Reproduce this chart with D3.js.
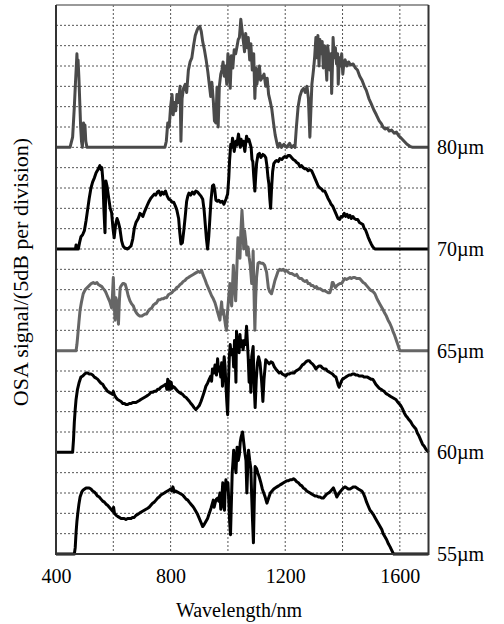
<!DOCTYPE html>
<html><head><meta charset="utf-8">
<script src="https://cdn.jsdelivr.net/npm/d3@7"></script>
<style>
html,body{margin:0;padding:0;background:#fff;}
text{font-family:"Liberation Serif","Times New Roman",serif;fill:#000;}
</style></head>
<body><svg id="c" width="504" height="624"></svg>
<script>
// ---- data (wavelength nm, signal in divisions above each trace's baseline) ----
const traceLabels = ["80µm","70µm","65µm","60µm","55µm"];
const traceOffsets = [20,15,10,5,0];   // baseline position in divisions
const traceColors = ["#4a4a4a","#000000","#666666","#000000","#000000"];
const xTicks = [400,800,1200,1600];
const gridX = [600,800,1000,1200,1400,1600];

const trace80 = [[400,0],[449,0],[458,0.5],[464,2.0],[468,3.2],[471,4.0],[473,4.6],[475,3.8],[477,4.3],[480,3.4],[483,2.2],[486,1.0],[489,0.3],[492,0],[496,1.2],[499,0.9],[501,1.1],[504,0.3],[508,0],
[780,0],[785,0.3],[790,1.2],[795,1.0],[800,2.0],[805,2.6],[809,1.6],[813,2.2],[818,1.8],[822,2.6],[827,2.2],[833,3.0],[836,0.3],[840,2.4],[845,2.9],[851,3.1],[856,2.7],[862,3.8],[868,4.2],[874,4.4],[880,5.0],[886,5.5],[892,5.75],[897,5.9],[902,5.95],[907,5.7],[912,5.2],[918,4.8],[924,4.3],[930,3.7],[935,3.1],[940,2.5],[944,3.2],[949,2.3],[953,1.3],[958,1.2],[962,2.95],[966,1.0],[970,3.0],[975,3.6],[979,3.8],[983,4.2],[987,3.5],[991,4.0],[996,3.1],[1000,4.6],[1004,4.2],[1008,2.9],[1012,4.5],[1017,3.9],[1022,4.8],[1027,4.6],[1031,4.9],[1036,5.3],[1040,5.4],[1045,6.3],[1049,5.8],[1054,5.2],[1058,4.7],[1062,5.6],[1067,4.9],[1071,5.4],[1076,4.3],[1080,5.1],[1085,3.8],[1090,4.6],[1094,2.4],[1098,3.9],[1101,3.1],[1106,3.6],[1110,4.0],[1114,3.3],[1120,3.45],[1126,3.6],[1132,3.0],[1137,3.4],[1142,2.6],[1147,2.3],[1153,1.9],[1159,1.2],[1165,0.6],[1171,0.2],[1175,0],[1181,0.2],[1187,0],[1195,0.15],[1205,0],[1215,0.2],[1222,0],[1230,0.1],[1234,0],[1239,1.0],[1245,2.0],[1251,2.5],[1258,2.8],[1264,2.9],[1270,2.7],[1276,3.0],[1281,2.4],[1286,0.5],[1290,2.0],[1293,3.1],[1297,3.6],[1300,4.0],[1303,4.5],[1307,5.4],[1311,4.4],[1314,5.5],[1318,4.0],[1321,5.3],[1325,4.6],[1329,5.2],[1333,3.9],[1337,5.0],[1341,4.3],[1345,3.3],[1348,5.0],[1352,4.5],[1356,3.8],[1360,4.6],[1362,2.65],[1365,4.1],[1367,5.4],[1371,4.4],[1375,4.9],[1379,4.1],[1383,4.6],[1385,3.1],[1389,4.4],[1393,4.0],[1397,4.6],[1401,3.6],[1405,4.2],[1409,4.3],[1415,4.0],[1421,4.2],[1428,4.05],[1437,4.1],[1445,3.9],[1452,3.8],[1460,3.5],[1468,3.3],[1476,3.0],[1483,2.8],[1492,2.4],[1500,2.15],[1509,1.85],[1518,1.6],[1528,1.3],[1536,1.15],[1541,1.0],[1548,0.9],[1556,0.95],[1563,0.8],[1571,0.85],[1580,0.7],[1588,0.75],[1597,0.55],[1605,0.45],[1615,0.3],[1625,0.15],[1635,0.05],[1645,0],[1700,0]];

const trace70 = [[400,0],[468,0],[470,0.2],[473,0],[478,0],[482,0.3],[487,0.6],[493,0.7],[499,0.9],[505,1.4],[510,1.9],[516,2.5],[522,3.0],[528,3.3],[534,3.5],[540,3.75],[546,3.9],[553,4.1],[557,3.9],[560,4.0],[564,3.3],[567,2.0],[571,0.8],[574,3.35],[578,3.1],[582,2.7],[586,2.3],[589,2.0],[594,1.8],[599,1.0],[603,0.55],[608,1.2],[613,1.5],[618,1.3],[623,1.0],[629,0.4],[634,0.15],[640,0.05],[650,0],[662,0.15],[668,0.5],[673,1.0],[679,1.3],[687,1.5],[693,1.75],[698,1.7],[703,1.6],[708,1.8],[714,2.0],[720,2.2],[725,2.35],[731,2.5],[737,2.6],[743,2.7],[748,2.65],[754,2.8],[759,2.85],[765,2.65],[770,2.8],[776,2.7],[782,2.85],[788,2.6],[794,2.45],[800,2.4],[805,2.3],[811,2.3],[817,2.1],[822,1.9],[828,1.5],[832,0.8],[836,0.25],[841,0.3],[846,0.9],[851,1.6],[856,2.35],[860,2.6],[864,2.75],[870,2.65],[876,2.8],[882,2.7],[888,2.85],[894,2.8],[900,2.7],[906,2.6],[912,2.45],[917,1.9],[921,1.2],[925,0.5],[929,0],[933,0.6],[937,1.5],[941,2.4],[946,3.1],[950,3.15],[954,2.9],[958,2.4],[963,2.35],[968,2.4],[974,2.3],[980,2.35],[986,2.2],[993,2.45],[999,2.7],[1003,3.5],[1006,4.4],[1010,5.15],[1013,5.0],[1016,5.45],[1019,5.2],[1022,4.8],[1025,5.1],[1028,5.3],[1031,5.1],[1034,5.4],[1037,5.65],[1040,5.3],[1043,5.0],[1046,5.4],[1050,5.1],[1054,5.3],[1059,4.8],[1062,5.2],[1065,5.55],[1069,5.3],[1073,5.4],[1077,5.2],[1081,5.0],[1084,4.4],[1087,4.3],[1090,3.6],[1094,2.85],[1097,3.6],[1100,4.2],[1105,4.65],[1110,4.7],[1115,4.5],[1122,4.65],[1127,4.6],[1132,4.5],[1136,4.1],[1140,3.5],[1143,3.2],[1146,2.5],[1149,2.0],[1152,2.9],[1156,3.8],[1160,4.2],[1165,4.3],[1170,4.35],[1176,4.3],[1181,4.45],[1188,4.4],[1194,4.5],[1199,4.55],[1205,4.5],[1210,4.6],[1216,4.6],[1222,4.5],[1228,4.4],[1234,4.35],[1240,4.25],[1246,4.2],[1251,4.05],[1257,4.1],[1263,4.0],[1268,3.95],[1274,3.95],[1280,3.85],[1286,3.9],[1292,3.85],[1297,3.7],[1303,3.5],[1309,3.3],[1315,3.1],[1321,3.0],[1327,2.95],[1332,2.85],[1338,2.85],[1343,2.7],[1349,2.5],[1355,2.35],[1360,2.2],[1366,2.1],[1372,1.9],[1378,1.7],[1384,1.5],[1390,1.45],[1395,1.6],[1401,1.6],[1406,1.75],[1411,1.6],[1416,1.7],[1421,1.55],[1426,1.65],[1431,1.5],[1436,1.6],[1441,1.5],[1447,1.45],[1453,1.45],[1459,1.3],[1465,1.25],[1471,1.2],[1476,1.0],[1480,0.95],[1484,0.8],[1489,0.6],[1495,0.4],[1500,0.25],[1506,0.1],[1513,0],[1700,0]];

const trace65 = [[400,0],[470,0],[473,0.3],[476,0.75],[480,1.4],[484,2.0],[489,2.4],[495,2.8],[502,3.0],[509,3.1],[516,3.2],[523,3.3],[530,3.35],[537,3.3],[543,3.35],[548,3.25],[554,3.2],[560,3.15],[565,3.05],[571,2.95],[576,2.8],[582,2.6],[588,2.4],[592,2.2],[594,2.1],[597,2.7],[600,3.6],[603,2.4],[606,1.5],[609,2.6],[612,2.45],[615,1.9],[618,1.3],[621,2.4],[624,3.1],[628,3.2],[633,3.3],[637,3.3],[642,3.25],[647,3.0],[652,2.7],[658,2.45],[664,2.3],[670,2.2],[675,2.0],[681,1.85],[687,1.75],[693,1.7],[699,1.7],[705,1.75],[711,1.8],[716,1.8],[722,1.95],[728,2.05],[734,2.1],[740,2.25],[745,2.3],[751,2.35],[757,2.5],[763,2.5],[769,2.55],[775,2.55],[780,2.6],[786,2.6],[792,2.75],[798,2.8],[804,2.85],[810,2.95],[816,3.0],[821,3.1],[827,3.15],[833,3.25],[838,3.3],[844,3.4],[850,3.45],[856,3.55],[862,3.6],[867,3.65],[873,3.7],[879,3.75],[885,3.8],[891,3.85],[897,3.9],[902,3.85],[908,3.95],[914,3.7],[920,3.5],[925,3.3],[931,3.1],[937,2.9],[943,2.7],[949,2.55],[955,2.35],[960,2.1],[964,1.9],[968,1.7],[972,1.5],[975,2.0],[978,2.4],[981,1.8],[984,2.0],[988,1.6],[992,1.2],[995,1.0],[998,1.8],[1002,2.5],[1005,3.0],[1007,3.3],[1010,2.6],[1013,2.2],[1016,3.2],[1019,4.2],[1021,3.6],[1024,3.0],[1027,2.45],[1030,3.6],[1032,4.4],[1035,5.55],[1038,5.2],[1042,4.55],[1045,5.8],[1049,6.9],[1052,6.2],[1055,5.0],[1058,5.9],[1062,5.4],[1066,4.7],[1070,5.1],[1074,4.6],[1078,4.2],[1083,3.3],[1086,3.8],[1088,4.9],[1090,3.6],[1092,2.2],[1094,1.0],[1097,2.6],[1100,3.6],[1105,4.3],[1110,4.35],[1116,4.3],[1122,4.3],[1128,4.2],[1135,3.85],[1141,3.1],[1146,2.9],[1152,2.8],[1158,3.1],[1164,3.45],[1170,3.7],[1175,3.9],[1181,4.0],[1187,3.95],[1193,4.0],[1199,3.9],[1205,3.95],[1211,3.85],[1216,3.8],[1222,3.8],[1228,3.75],[1234,3.7],[1240,3.75],[1246,3.6],[1251,3.55],[1257,3.55],[1263,3.45],[1269,3.4],[1275,3.45],[1280,3.3],[1286,3.3],[1291,3.2],[1297,3.2],[1303,3.1],[1309,3.15],[1315,3.05],[1321,3.05],[1327,3.0],[1332,2.95],[1338,2.95],[1344,2.9],[1350,2.85],[1356,2.85],[1361,3.1],[1364,3.35],[1367,3.35],[1371,3.2],[1375,3.1],[1380,3.2],[1385,3.25],[1391,3.3],[1397,3.3],[1403,3.45],[1408,3.55],[1414,3.5],[1420,3.55],[1426,3.6],[1431,3.55],[1437,3.6],[1443,3.6],[1449,3.55],[1455,3.55],[1460,3.55],[1466,3.45],[1472,3.35],[1478,3.3],[1484,3.2],[1490,3.1],[1496,3.0],[1501,2.95],[1507,2.9],[1513,2.8],[1519,2.6],[1524,2.45],[1530,2.3],[1536,2.15],[1542,2.0],[1547,1.85],[1553,1.7],[1559,1.5],[1565,1.35],[1571,1.15],[1576,0.95],[1582,0.75],[1588,0.5],[1594,0.25],[1600,0],[1700,0]];

const trace60 = [[400,0],[458,0],[461,0.6],[464,1.5],[467,2.1],[470,2.6],[475,3.1],[481,3.45],[487,3.7],[493,3.75],[500,3.85],[505,3.9],[510,3.9],[516,3.85],[522,3.85],[528,3.8],[534,3.7],[540,3.65],[545,3.6],[551,3.5],[557,3.4],[563,3.35],[569,3.2],[575,3.1],[580,3.0],[586,2.95],[592,2.9],[597,2.85],[600,3.0],[603,2.85],[609,2.7],[615,2.6],[621,2.55],[627,2.5],[633,2.4],[639,2.4],[644,2.35],[650,2.35],[656,2.4],[662,2.4],[668,2.45],[673,2.45],[679,2.45],[685,2.5],[691,2.55],[696,2.6],[702,2.65],[708,2.7],[714,2.75],[720,2.8],[725,2.85],[731,2.95],[737,2.95],[743,3.0],[749,3.0],[755,3.1],[760,3.1],[766,3.2],[772,3.25],[778,3.3],[783,3.35],[787,3.1],[790,3.6],[793,3.1],[796,3.5],[799,3.1],[802,3.45],[805,3.15],[807,3.25],[813,3.2],[819,3.1],[825,3.0],[830,2.95],[836,2.9],[842,2.85],[848,2.75],[854,2.7],[860,2.6],[866,2.5],[871,2.4],[877,2.3],[882,2.2],[888,2.1],[894,2.2],[900,2.3],[906,2.5],[912,2.75],[918,3.0],[923,3.25],[929,3.4],[935,3.6],[940,3.75],[943,3.5],[946,4.1],[951,3.9],[955,4.3],[960,3.8],[964,4.6],[967,4.0],[971,4.2],[975,3.7],[978,4.4],[981,3.25],[984,4.0],[987,4.7],[990,4.2],[993,3.3],[996,2.5],[999,1.85],[1002,3.5],[1005,4.7],[1008,5.3],[1011,4.8],[1014,5.0],[1017,5.05],[1020,4.2],[1023,5.5],[1026,4.5],[1028,3.45],[1030,5.95],[1033,5.3],[1036,5.6],[1039,4.9],[1042,5.8],[1045,5.2],[1048,5.5],[1053,5.05],[1057,5.5],[1061,5.3],[1065,6.2],[1068,5.4],[1071,4.6],[1074,3.45],[1077,4.5],[1080,2.95],[1083,4.7],[1086,5.0],[1088,5.2],[1091,3.5],[1095,2.2],[1099,3.6],[1103,4.4],[1107,4.7],[1112,4.4],[1117,3.6],[1120,3.0],[1122,2.5],[1126,3.6],[1132,4.55],[1138,4.45],[1144,4.35],[1150,4.45],[1156,4.4],[1162,4.2],[1167,4.1],[1173,4.0],[1179,3.9],[1185,3.95],[1190,3.85],[1196,3.8],[1202,3.75],[1208,3.85],[1214,3.85],[1220,3.9],[1226,3.9],[1231,3.9],[1237,4.0],[1243,4.05],[1249,4.1],[1255,4.2],[1260,4.3],[1266,4.35],[1272,4.45],[1278,4.5],[1284,4.5],[1290,4.4],[1295,4.35],[1301,4.25],[1307,4.1],[1313,4.2],[1318,4.25],[1324,4.25],[1330,4.15],[1336,4.1],[1342,4.1],[1347,4.0],[1353,3.95],[1359,3.9],[1365,3.85],[1371,3.75],[1377,3.7],[1381,3.5],[1385,3.3],[1388,3.2],[1392,3.35],[1396,3.5],[1400,3.6],[1406,3.65],[1411,3.7],[1417,3.75],[1423,3.8],[1429,3.8],[1435,3.85],[1441,3.85],[1446,3.8],[1452,3.8],[1458,3.75],[1464,3.75],[1470,3.75],[1475,3.7],[1481,3.7],[1487,3.7],[1493,3.65],[1499,3.6],[1505,3.6],[1510,3.5],[1516,3.35],[1522,3.25],[1528,3.15],[1534,3.1],[1539,3.05],[1545,3.0],[1551,2.9],[1557,2.85],[1562,2.8],[1568,2.75],[1574,2.7],[1580,2.65],[1586,2.6],[1591,2.5],[1597,2.4],[1603,2.3],[1609,2.15],[1615,1.95],[1621,1.8],[1627,1.7],[1632,1.6],[1638,1.5],[1644,1.35],[1650,1.25],[1656,1.15],[1661,0.95],[1667,0.8],[1673,0.6],[1679,0.4],[1685,0.3],[1691,0.15],[1697,0.05],[1700,0]];

const trace55 = [[400,0],[464,0],[467,0.3],[470,1.05],[473,1.6],[476,2.0],[480,2.45],[484,2.8],[490,3.05],[495,3.15],[500,3.2],[505,3.25],[511,3.25],[516,3.25],[522,3.2],[528,3.1],[534,3.05],[540,2.95],[545,2.85],[551,2.8],[557,2.7],[563,2.6],[569,2.55],[575,2.45],[580,2.4],[586,2.3],[592,2.2],[598,2.1],[601,2.3],[604,2.0],[610,1.9],[615,1.85],[621,1.8],[627,1.75],[633,1.75],[638,1.75],[644,1.7],[650,1.75],[656,1.75],[662,1.75],[667,1.8],[673,1.8],[679,1.9],[685,1.95],[691,2.0],[696,2.05],[702,2.1],[708,2.15],[714,2.2],[720,2.25],[725,2.3],[731,2.4],[737,2.5],[743,2.55],[749,2.65],[755,2.75],[760,2.8],[766,2.9],[772,2.95],[778,3.0],[783,3.05],[789,3.1],[795,3.15],[800,3.2],[804,3.1],[808,3.3],[813,3.05],[818,3.1],[824,3.05],[830,3.0],[836,2.95],[842,2.9],[848,2.8],[854,2.7],[860,2.65],[865,2.55],[871,2.45],[877,2.35],[882,2.25],[888,2.1],[894,1.95],[900,1.75],[906,1.55],[912,1.35],[917,1.45],[923,1.6],[929,1.75],[935,2.0],[941,2.25],[945,2.45],[949,2.65],[952,2.3],[956,2.55],[960,2.7],[964,2.75],[968,2.6],[972,3.0],[975,2.2],[978,2.6],[982,3.5],[985,2.4],[988,2.15],[990,3.0],[993,3.65],[996,3.2],[1000,3.5],[1003,2.6],[1006,1.6],[1009,0.95],[1012,2.5],[1015,4.0],[1018,4.6],[1020,5.1],[1024,4.5],[1028,4.0],[1032,5.25],[1036,4.6],[1040,4.9],[1043,5.5],[1046,5.75],[1051,6.0],[1055,5.5],[1059,5.0],[1063,4.6],[1066,3.0],[1069,4.2],[1072,5.1],[1076,4.6],[1080,4.2],[1083,2.8],[1086,1.6],[1089,0.55],[1092,2.6],[1095,4.3],[1100,4.2],[1104,4.0],[1109,3.8],[1115,3.5],[1120,3.2],[1125,3.0],[1130,2.8],[1136,2.5],[1142,2.75],[1148,3.0],[1154,3.1],[1160,3.2],[1165,3.25],[1171,3.3],[1177,3.35],[1182,3.4],[1188,3.45],[1194,3.5],[1200,3.55],[1206,3.6],[1211,3.6],[1217,3.65],[1223,3.65],[1229,3.7],[1234,3.65],[1240,3.55],[1246,3.5],[1252,3.4],[1258,3.35],[1263,3.25],[1269,3.2],[1275,3.1],[1281,3.05],[1287,3.0],[1292,2.95],[1298,2.9],[1304,2.85],[1310,2.85],[1316,2.8],[1321,2.8],[1327,2.75],[1333,2.75],[1339,2.85],[1345,2.95],[1351,3.0],[1356,3.05],[1362,3.15],[1368,3.25],[1374,3.05],[1380,2.8],[1386,2.95],[1391,3.05],[1397,3.15],[1403,3.25],[1409,3.3],[1415,3.25],[1420,3.2],[1426,3.2],[1432,3.25],[1438,3.3],[1444,3.3],[1450,3.25],[1455,3.2],[1461,3.15],[1467,3.1],[1472,3.0],[1478,2.8],[1484,2.55],[1490,2.35],[1496,2.15],[1502,2.05],[1507,1.95],[1513,1.8],[1519,1.65],[1525,1.5],[1531,1.35],[1537,1.2],[1542,1.0],[1548,0.85],[1554,0.7],[1560,0.5],[1566,0.35],[1571,0.2],[1576,0.05],[1579,0],[1700,0]];

const traces = [trace80, trace70, trace65, trace60, trace55];

// ---- drawing ----
const svg = d3.select("#c");
const L = 56, R = 428.5, T = 5, B = 554;
const x = d3.scaleLinear().domain([400,1700]).range([L,R]);
const y = d3.scaleLinear().domain([0,27]).range([B,T]);

const g = svg.append("g");
// grid
g.selectAll("line.h").data(d3.range(1,27)).join("line")
  .attr("x1",L).attr("x2",R).attr("y1",d=>y(d)).attr("y2",d=>y(d))
  .attr("stroke","#555").attr("stroke-width",1).attr("stroke-dasharray","2,2");
g.selectAll("line.v").data(gridX).join("line")
  .attr("x1",d=>x(d)).attr("x2",d=>x(d)).attr("y1",T).attr("y2",B)
  .attr("stroke","#555").attr("stroke-width",1).attr("stroke-dasharray","2,2");

// traces
const line = d3.line().x(d=>x(d[0]));
traces.forEach((t,i)=>{
  const off = traceOffsets[i];
  g.append("path").datum(t)
    .attr("d", line.y(d=>y(d[1]+off)))
    .attr("fill","none").attr("stroke",traceColors[i])
    .attr("stroke-width",3).attr("stroke-linejoin","round");
});

// frame
g.append("line").attr("x1",L).attr("x2",R).attr("y1",T).attr("y2",T)
  .attr("stroke","#777").attr("stroke-width",1.5);
g.append("path").attr("d",`M${L},${T}V${B}H${R}V${T}`)
  .attr("fill","none").attr("stroke","#333").attr("stroke-width",2);

// x axis
const xa = svg.append("g").attr("transform",`translate(0,${B})`)
  .call(d3.axisBottom(x).tickValues(xTicks).tickSize(0).tickPadding(15).tickFormat(d3.format("d")));
xa.select(".domain").remove();
xa.selectAll("text").style("font-family","'Liberation Serif',serif").style("font-size","20px").attr("fill","#000");

svg.append("text").attr("x",239).attr("y",617).attr("text-anchor","middle")
  .style("font-size","20px").text("Wavelength/nm");

svg.append("text").attr("transform","translate(20,272) rotate(-90)")
  .attr("text-anchor","middle").attr("dy","0.35em")
  .style("font-size","22px").text("OSA signal/(5dB per division)");

// right labels
svg.selectAll("text.lab").data(traceLabels).join("text")
  .attr("class","lab").attr("x",437).attr("y",(d,i)=>y(traceOffsets[i]))
  .attr("dy","0.35em").style("font-size","20px").text(d=>d);
</script></body></html>
